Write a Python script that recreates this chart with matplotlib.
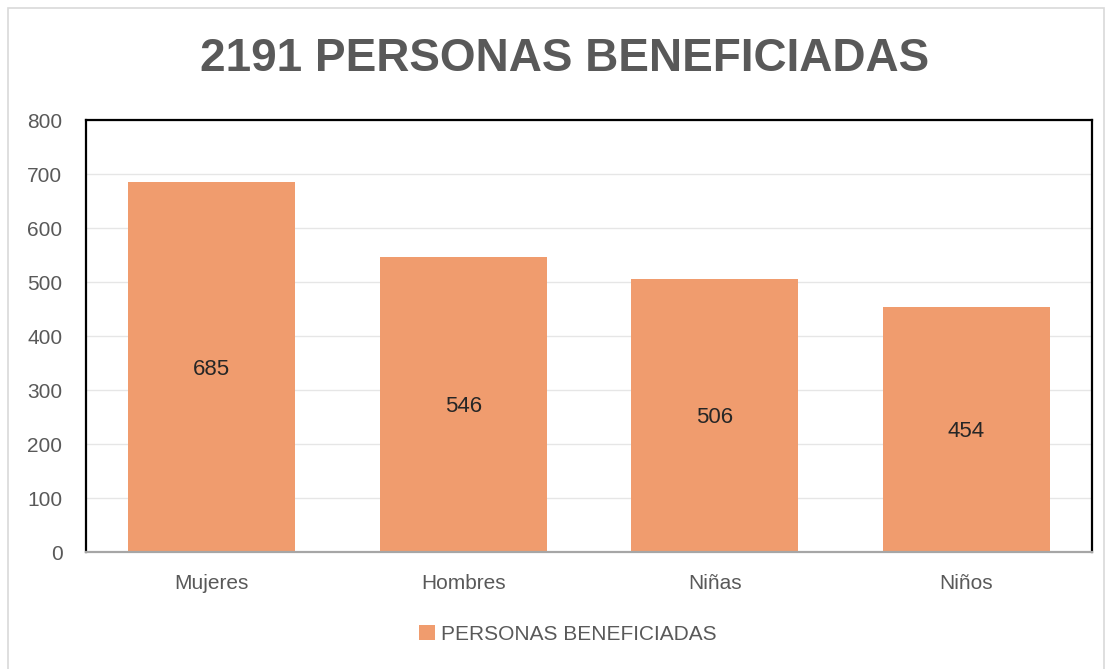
import matplotlib.pyplot as plt
from matplotlib.patches import Rectangle, Patch

# datos
categorias = ['Mujeres', 'Hombres', 'Niñas', 'Niños']
valores = [685, 546, 506, 454]
titulo = '2191 PERSONAS BENEFICIADAS'
serie = 'PERSONAS BENEFICIADAS'

color_barra = '#F09C6E'
gris = '#595959'

plt.rcParams['font.family'] = ['Liberation Sans', 'DejaVu Sans']

fig = plt.figure(figsize=(11.1, 6.69), dpi=100)
ax = fig.add_axes([86 / 1110, 1 - 552 / 669, 1006 / 1110, 432 / 669])

# borde exterior del grafico
fig.patches.append(Rectangle((8 / 1110, -0.01), 1096 / 1110, 1 - 8 / 669 + 0.01,
                             transform=fig.transFigure, fill=False,
                             edgecolor='#D9D9D9', linewidth=1.2))

x = range(len(categorias))
bars = ax.bar(x, valores, width=0.665, color=color_barra, zorder=2)

for b, v in zip(bars, valores):
    ax.text(b.get_x() + b.get_width() / 2, v / 2 - 4, str(v), ha='center', va='center',
            fontsize=16, color='#262626')

ax.set_xlim(-0.5, len(categorias) - 0.5)
ax.set_ylim(0, 800)
ax.set_yticks(range(0, 801, 100))
ax.set_xticks(list(x))
ax.set_xticklabels(categorias)
ax.tick_params(axis='both', length=0, labelsize=15, labelcolor=gris)
ax.tick_params(axis='y', pad=17)
ax.tick_params(axis='x', pad=16)
ax.grid(axis='y', color='#E6E6E6', linewidth=1, zorder=0)

for s in ['top', 'right', 'left']:
    ax.spines[s].set_color('black')
    ax.spines[s].set_linewidth(1.6)
ax.spines['bottom'].set_color('#A6A6A6')
ax.spines['bottom'].set_linewidth(1.6)

fig.text(565 / 1110, 1 - 59 / 669, titulo, ha='center', va='center',
         fontsize=33, fontweight='bold', color=gris)

fig.legend(handles=[Patch(facecolor=color_barra, label=serie)],
           loc='center', bbox_to_anchor=(568 / 1110, 1 - 634 / 669),
           frameon=False, fontsize=15, labelcolor=gris,
           handlelength=0.75, handleheight=0.75, handletextpad=0.3)

fig.savefig('out.png', dpi=100)
